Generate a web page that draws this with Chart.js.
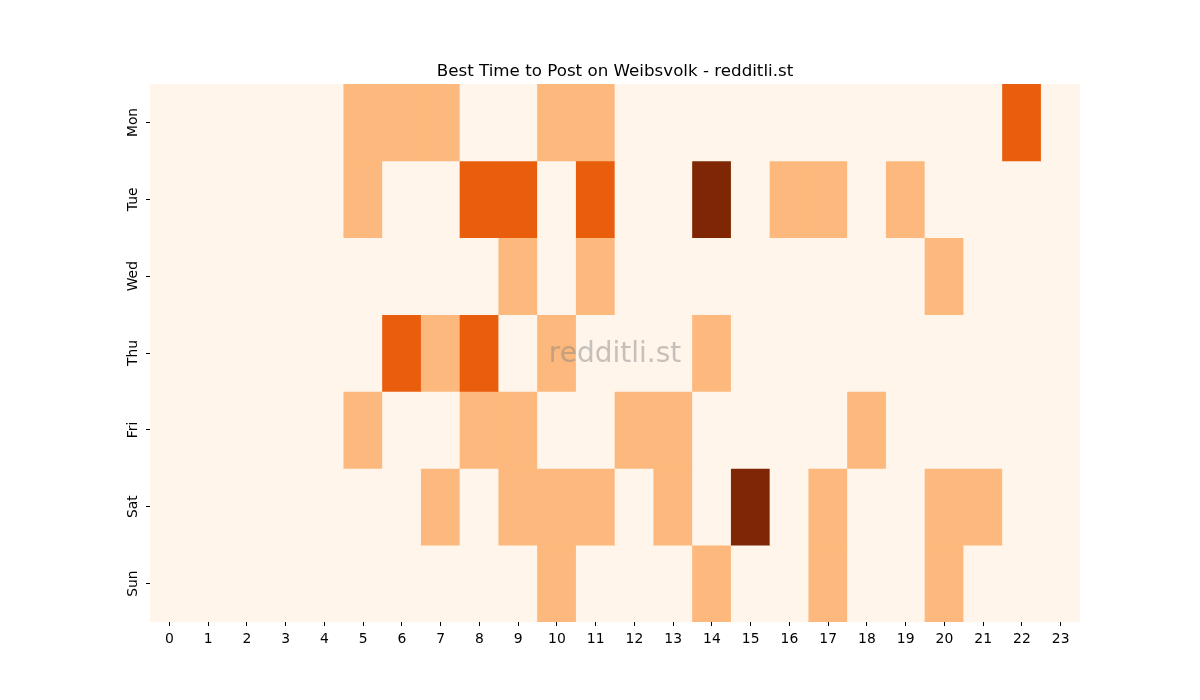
<!DOCTYPE html>
<html lang="en">
<head>
    <meta charset="UTF-8">
    <title>Best Time to Post on Weibsvolk</title>
    <script src="https://cdn.jsdelivr.net/npm/chart.js@4.4.1/dist/chart.umd.min.js"></script>
    <style>
        body { margin: 0; background: #fff; }
        #wrap { width: 1200px; height: 700px; }
    </style>
</head>
<body>
    <div id="wrap"><canvas id="myChart"></canvas></div>
    <script>
        // hours along the bottom, days down the side
        const hours = ['0','1','2','3','4','5','6','7','8','9','10','11','12','13','14','15','16','17','18','19','20','21','22','23'];
        const days = ['Mon', 'Tue', 'Wed', 'Thu', 'Fri', 'Sat', 'Sun'];

        // posting score per hour (0 = low ... 3 = best)
        const mon = [0,0,0,0,0,1,1,1,0,0,1,1,0,0,0,0,0,0,0,0,0,0,2,0];
        const tue = [0,0,0,0,0,1,0,0,2,2,0,2,0,0,3,0,1,1,0,1,0,0,0,0];
        const wed = [0,0,0,0,0,0,0,0,0,1,0,1,0,0,0,0,0,0,0,0,1,0,0,0];
        const thu = [0,0,0,0,0,0,2,1,2,0,1,0,0,0,1,0,0,0,0,0,0,0,0,0];
        const fri = [0,0,0,0,0,1,0,0,1,1,0,0,1,1,0,0,0,0,1,0,0,0,0,0];
        const sat = [0,0,0,0,0,0,0,1,0,1,1,1,0,1,0,3,0,1,0,0,1,1,0,0];
        const sun = [0,0,0,0,0,0,0,0,0,0,1,0,0,0,1,0,0,1,0,0,1,0,0,0];
        const rows = [mon, tue, wed, thu, fri, sat, sun];

        // Oranges colormap steps
        const palette = ['#fff5eb', '#fdb97d', '#e95e0d', '#7f2704'];

        // each day is a row of floating bars [i, i+1]
        const datasets = rows.map((vals, i) => ({
            label: days[i],
            data: hours.map(() => [i, i + 1]),
            backgroundColor: vals.map(v => palette[v]),
            borderWidth: 0,
            barPercentage: 1,
            categoryPercentage: 1,
            grouped: false
        }));

        // watermark in the middle of the plot
        const watermark = {
            id: 'watermark',
            afterDatasetsDraw(chart) {
                const a = chart.chartArea;
                const c = chart.ctx;
                c.save();
                c.font = '28px "DejaVu Sans"';
                c.fillStyle = 'rgba(128,128,128,0.45)';
                c.textAlign = 'center';
                c.textBaseline = 'middle';
                c.fillText('redditli.st', (a.left + a.right) / 2, (a.top + a.bottom) / 2 + 2);
                c.restore();
            }
        };

        const ctx = document.getElementById('myChart');
        new Chart(ctx, {
            type: 'bar',
            data: { labels: hours, datasets: datasets },
            plugins: [watermark],
            options: {
                responsive: true,
                maintainAspectRatio: false,
                animation: false,
                layout: { padding: { left: 0, right: 120, top: 0, bottom: 0 } },
                plugins: {
                    legend: { display: false },
                    tooltip: { enabled: false },
                    title: {
                        display: true,
                        fullSize: false,
                        text: 'Best Time to Post on Weibsvolk - redditli.st',
                        color: '#000',
                        font: { family: 'DejaVu Sans', size: 16.7, weight: 'normal', lineHeight: 1.2 },
                        padding: { top: 62, bottom: 2 }
                    }
                },
                scales: {
                    x: {
                        type: 'category',
                        offset: true,
                        border: { display: false },
                        grid: { offset: false, drawOnChartArea: false, drawTicks: true, tickLength: 4, color: '#000' },
                        ticks: { color: '#000', font: { family: 'DejaVu Sans', size: 13.9 }, padding: 5, maxRotation: 0, autoSkip: false },
                        afterFit(scale) { scale.height = 78; }
                    },
                    y: {
                        type: 'linear',
                        min: 0,
                        max: 7,
                        reverse: true,
                        border: { display: false },
                        grid: { drawOnChartArea: false, drawTicks: true, tickLength: 4, color: '#000' },
                        afterBuildTicks(scale) {
                            scale.ticks = days.map((d, i) => ({ value: i + 0.5 }));
                        },
                        ticks: {
                            color: '#000',
                            font: { family: 'DejaVu Sans', size: 13.9 },
                            autoSkip: false,
                            minRotation: 90,
                            maxRotation: 90,
                            crossAlign: 'center',
                            padding: -3,
                            callback: (v, idx) => days[idx]
                        },
                        afterFit(scale) { scale.width = 150; }
                    }
                }
            }
        });
    </script>
</body>
</html>
